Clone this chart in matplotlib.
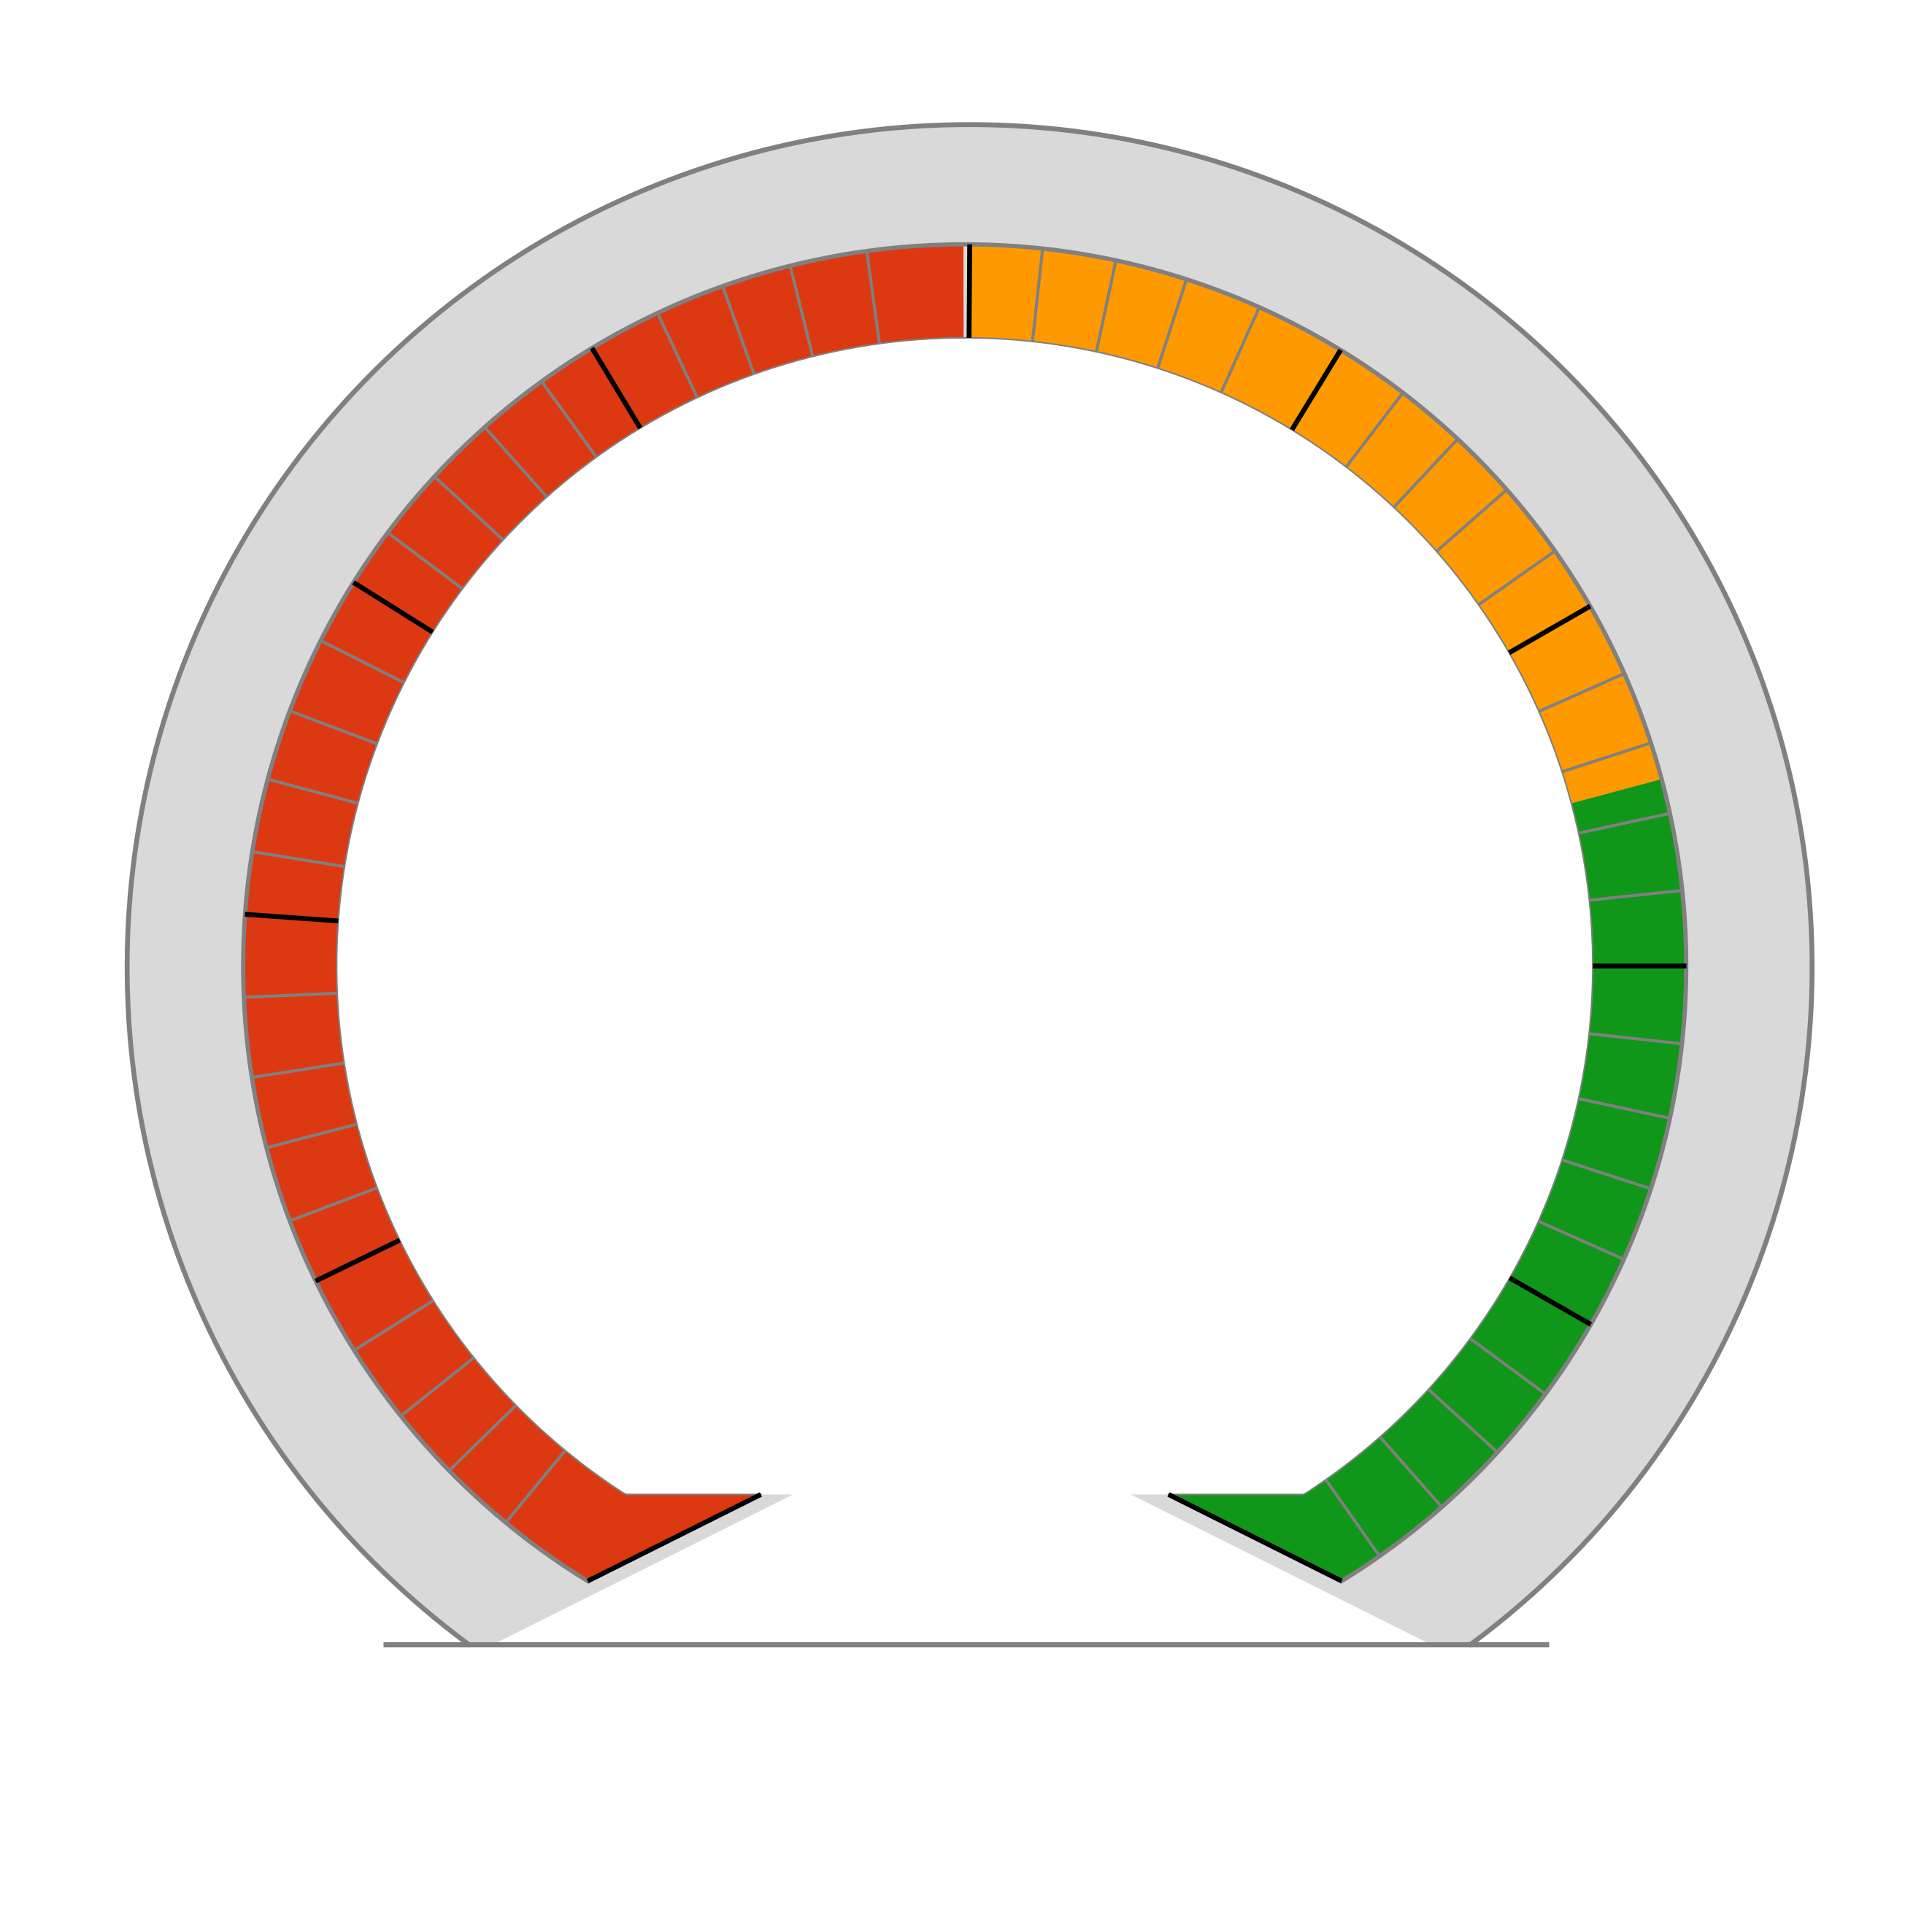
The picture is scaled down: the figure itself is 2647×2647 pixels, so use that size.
import numpy as np
import matplotlib
matplotlib.use("Agg")
import matplotlib.pyplot as plt
from matplotlib.patches import Polygon

# gauge values, in degrees clockwise from the top
gauge_start, gauge_end = -148.5, 148.5
band_from = [-148.5, 0.2, 75.0]
band_to = [-0.1, 75.0, 148.5]
band_colors = ["#DC3912", "#FF9900", "#109618"]

major_ticks = [-115.9, -85.9, -57.9, -31.1, 0.4, 31.4, 60.1, 90.0, 119.8]
minor_ticks = [-140.5, -134.4, -128.6, -122.2, -110.7, -104.6, -98.9, -92.5,
               -80.9, -75.0, -69.3, -63.2, -53.1, -47.3, -41.7, -35.9,
               -25.2, -19.6, -14.0, -7.8,
               6.2, 12.1, 17.9, 24.1, 37.4, 43.1, 48.7, 54.9,
               66.1, 72.0, 77.8, 84.0, 96.2, 102.2, 108.0, 114.0,
               126.4, 132.4, 138.6, 144.9]

# geometry (background circle centred at 0, 0)
BX, BY = -0.0068, 0.0017
R_IN, R_OUT, R_BG = 0.867, 0.996, 1.163
Y_BASE, Y_CLIP = -0.935, -0.728
CAP_SLOPE = 0.5
INSET_L, INSET_R = 0.034, 0.055
GREY, FILL = "#808080", "#D9D9D9"


def pt(a, r, cx=BX, cy=BY):
    t = np.radians(a)
    return cx + r * np.sin(t), cy + r * np.cos(t)


def arc(a0, a1, r, n=400, cx=BX, cy=BY):
    x, y = pt(np.linspace(a0, a1, n), r, cx, cy)
    return np.column_stack([x, y])


def inner(a0, a1, n=400):
    p = arc(a0, a1, R_IN, n)
    p[:, 1] = np.maximum(p[:, 1], Y_CLIP)
    return p


def cap(a, side):
    xe, ye = pt(a, R_OUT)
    return np.array([xe + side * (Y_CLIP - ye) / CAP_SLOPE, Y_CLIP])


cap_l = cap(gauge_start, 1)
cap_r = cap(gauge_end, -1)

fig = plt.figure(figsize=(2647 / 300, 2647 / 300), dpi=300)
ax = fig.add_axes([0, 0, 1, 1])
ax.set_xlim(-1.338, 1.328)
ax.set_ylim(-1.332, 1.335)
ax.set_aspect("equal")
ax.axis("off")

# grey background
a_bg = np.degrees(np.arccos(Y_BASE / R_BG))
bg = arc(-a_bg, a_bg, R_BG, 600, 0, 0)
xr = bg[-1, 0] - INSET_R
xl = bg[0, 0] + INSET_L
top = Y_CLIP + 0.02
dx = (top - Y_BASE) / CAP_SLOPE
bg_poly = np.vstack([bg, [[xr, Y_BASE], [xr - dx, top],
                          [xl + dx, top], [xl, Y_BASE]]])
ax.add_patch(Polygon(bg_poly, closed=True, fc=FILL, ec="none", zorder=1))
ax.plot(bg[:, 0], bg[:, 1], color=GREY, lw=1.6, zorder=2)
ax.plot([-0.81, 0.80], [Y_BASE, Y_BASE], color=GREY, lw=1.7, zorder=2,
        solid_capstyle="butt")

# white centre
ax.add_patch(Polygon(inner(0, 360, 800), closed=True, fc="white", ec="none",
                     zorder=2))

# coloured bands
for a0, a1, c in zip(band_from, band_to, band_colors):
    parts = []
    if a0 == gauge_start:
        parts.append(cap_l[None, :])
    parts.append(arc(a0, a1, R_OUT))
    if a1 == gauge_end:
        parts.append(cap_r[None, :])
    parts.append(inner(a1, a0))
    ax.add_patch(Polygon(np.vstack(parts), closed=True, fc=c, ec="none",
                         zorder=3))

# ring edges
edge_in = np.vstack([cap_l[None, :], inner(gauge_start, gauge_end, 800),
                     cap_r[None, :]])
ax.plot(edge_in[:, 0], edge_in[:, 1], color=GREY, lw=0.5, zorder=4)
edge_out = arc(gauge_start, gauge_end, R_OUT, 800)
ax.plot(edge_out[:, 0], edge_out[:, 1], color=GREY, lw=1.4, zorder=4)

# ticks
for a in minor_ticks:
    x0, y0 = pt(a, R_IN)
    x1, y1 = pt(a, R_OUT)
    ax.plot([x0, x1], [y0, y1], color=GREY, lw=1.0, zorder=5,
            solid_capstyle="butt")
for a in major_ticks:
    x0, y0 = pt(a, R_IN)
    x1, y1 = pt(a, R_OUT)
    ax.plot([x0, x1], [y0, y1], color="black", lw=1.6, zorder=6,
            solid_capstyle="butt")

for a, c in ((gauge_start, cap_l), (gauge_end, cap_r)):
    xe, ye = pt(a, R_OUT)
    ax.plot([xe, c[0]], [ye, c[1]], color="black", lw=1.6, zorder=6,
            solid_capstyle="butt")

fig.savefig("out.png", dpi=300)
